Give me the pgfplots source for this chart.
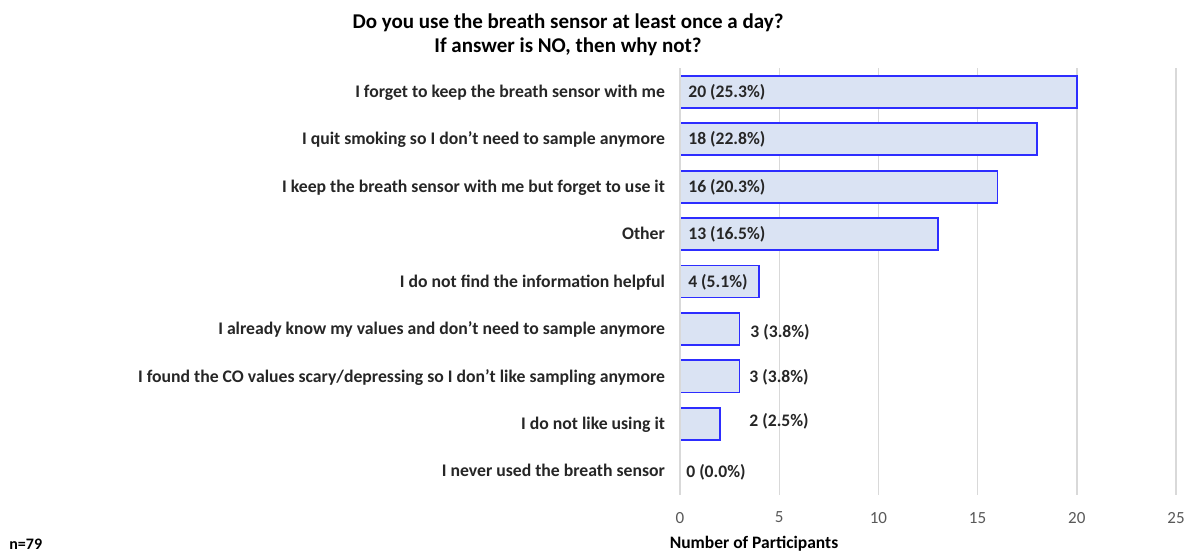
\documentclass[border=0pt]{standalone}
\usepackage{fontspec}
\setmainfont{Carlito}
\usepackage{pgfplots}
\pgfplotsset{compat=1.18}
\definecolor{barfill}{RGB}{218,227,243}
\definecolor{barline}{RGB}{45,45,255}
\definecolor{gridgray}{RGB}{217,217,217}
\definecolor{txt}{RGB}{38,38,38}
\definecolor{ticktxt}{RGB}{89,89,89}

\begin{document}
\begin{tikzpicture}
\path[use as bounding box] (0,0) rectangle (596.5pt,276.5pt);
\fill[white] (0,0) rectangle (596.5pt,276.5pt);
% title and notes
\node[font=\bfseries\fontsize{10.5}{12}\selectfont, text=black] at (284pt,265pt) {Do you use the breath sensor at least once a day?};
\node[font=\bfseries\fontsize{10.5}{12}\selectfont, text=black] at (284pt,253pt) {If answer is NO, then why not?};
\node[font=\bfseries\fontsize{8}{9}\selectfont, text=black, anchor=base west, inner sep=0pt] at (4.5pt,1.8pt) {n=79};
\node[font=\bfseries\fontsize{8.75}{10}\selectfont, text=black, anchor=base, inner sep=0pt] at (377pt,2.2pt) {Number of Participants};

\begin{axis}[
  at={(340pt,29pt)}, anchor=south west,
  scale only axis,
  width=248pt, height=213.5pt,
  xmin=0, xmax=25,
  ymin=-0.5, ymax=8.5,
  y dir=reverse,
  xtick={0,5,...,25},
  ytick={0,...,8},
  yticklabels={
    I forget to keep the breath sensor with me,
    I quit smoking so I don’t need to sample anymore,
    I keep the breath sensor with me but forget to use it,
    Other,
    I do not find the information helpful,
    I already know my values and don’t need to sample anymore,
    I found the CO values scary/depressing so I don’t like sampling anymore,
    I do not like using it,
    I never used the breath sensor},
  axis line style={draw=none},
  major tick length=0pt,
  xmajorgrids=true,
  grid style={gridgray, line width=0.7pt},
  /pgf/number format/assume math mode=true,
  xticklabel style={font=\fontsize{8.5}{10}\selectfont, text=ticktxt, yshift=-5pt},
  yticklabel style={font=\bfseries\fontsize{8.85}{10}\selectfont, text=txt,
    anchor=base east, xshift=-4pt, yshift=-2.85pt},
  clip=false,
]
\addplot[xbar, bar shift=0pt, bar width=0.675, draw=barline, fill=barfill, line width=0.9pt] coordinates {
  (20,0) (18,1) (16,2) (13,3) (4,4) (3,5) (3,6) (2,7) (0,8)
};
\draw[gridgray, line width=0.7pt] (axis cs:0,-0.5) -- (axis cs:0,8.5);
% data labels
\addplot[only marks, mark=none,
  nodes near coords={\pgfplotspointmeta},
  point meta=explicit symbolic,
  every node near coord/.style={anchor=base west, inner sep=0pt, yshift=-2.8pt,
    font=\bfseries\fontsize{8.8}{10}\selectfont, text=txt}]
  coordinates {
  (0.40,0) [20 (25.3\%)]
  (0.40,1) [18 (22.8\%)]
  (0.40,2) [16 (20.3\%)]
  (0.40,3) [13 (16.5\%)]
  (0.40,4) [4 (5.1\%)]
  (3.53,5.06) [3 (3.8\%)]
  (3.48,6.02) [3 (3.8\%)]
  (3.48,6.94) [2 (2.5\%)]
  (0.30,8.02) [0 (0.0\%)]
};
\end{axis}
\end{tikzpicture}
\end{document}
